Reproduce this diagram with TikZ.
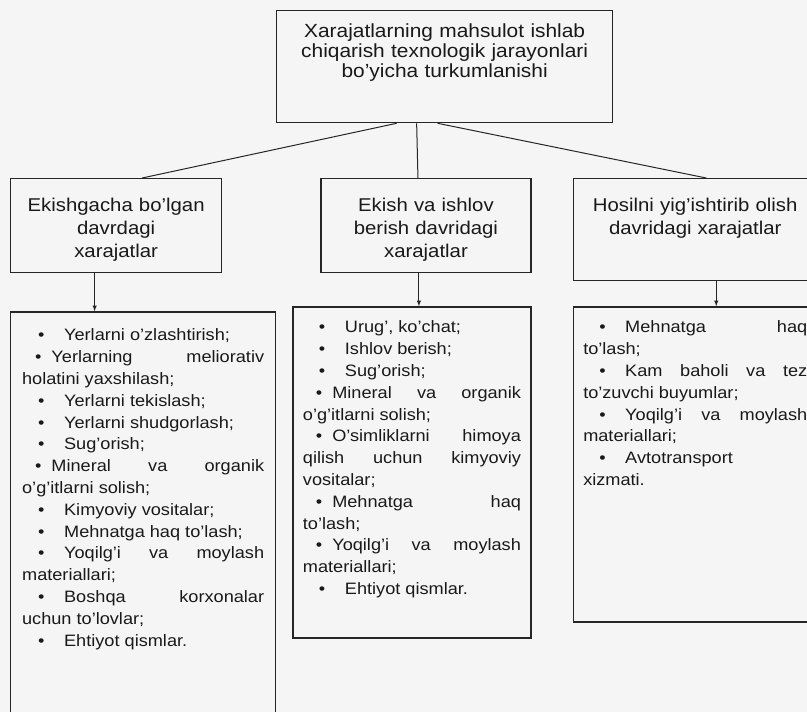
\documentclass[tikz,border=0pt]{standalone}
\usepackage{fontspec}
\setmainfont{Liberation Sans}[FakeStretch=1.1]
\usepackage{tikz}
\usetikzlibrary{arrows,calc}
\usetikzlibrary{positioning}
\newcommand{\itm}{\hspace*{16pt}\makebox[26pt][l]{\textbullet}}
\newcommand{\itmw}{\hspace*{13pt}\textbullet\hspace*{10pt}}
\tikzstyle{line}=[-, line width=1pt, black!85]
\tikzstyle{cell}=[rectangle, draw=black!85, line width=1.3pt, text=black!90, inner sep=6pt]
\tikzstyle{phase}=[cell, align=center, font=\fontsize{18.5}{23}\selectfont,
		text height=27pt, text depth=55pt]
\tikzstyle{costs}=[cell, text justified, font={\fontsize{16.5}{21.8}\selectfont\hyphenpenalty=10000},
		text height=20pt]

\begin{document}
\begin{tikzpicture}[x=1pt, y=1pt, >=latex]

    \fill [black!4] (0,0) rectangle (807,-712);
    \useasboundingbox (0,0) rectangle (807,-712);

    \node (Title) [cell, align=center, text width=324pt, text height=21pt, text depth=79pt,
    		       font=\fontsize{19}{20}\selectfont, anchor=north west] at (276,-10) {
      Xarajatlarning mahsulot ishlab\\
      chiqarish texnologik jarayonlari\\
      bo'yicha turkumlanishi
    };

    \node (Sowing) [phase, text width=199pt, anchor=north west] at (10,-178) {
      Ekishgacha bo'lgan\\ davrdagi\\ xarajatlar
    };

    \node (Growing) [phase, text width=198pt, right=98pt of Sowing] {
      Ekish va ishlov\\ berish davridagi\\ xarajatlar
    };

    \node (Harvest) [phase, text width=232pt, text depth=63pt,
    		         right=41pt of Growing.north east, anchor=north west] {
      Hosilni yig'ishtirib olish\\ davridagi xarajatlar
    };

    \node (SowingList) [costs, text width=242pt, inner xsep=11.5pt, text height=23pt,
    		            text depth=400pt, below=38pt of Sowing.south west, anchor=north west] {
      \itm Yerlarni o'zlashtirish;\par
      \itmw Yerlarning meliorativ\linebreak holatini yaxshilash;\par
      \itm Yerlarni tekislash;\par
      \itm Yerlarni shudgorlash;\par
      \itm Sug'orish;\par
      \itmw Mineral va organik\linebreak o'g'itlarni solish;\par
      \itm Kimyoviy vositalar;\par
      \itm Mehnatga haq to'lash;\par
      \itm Yoqilg'i va moylash\linebreak materiallari;\par
      \itm Boshqa korxonalar\linebreak uchun to'lovlar;\par
      \itm Ehtiyot qismlar.
    };

    \node (GrowingList) [costs, text width=218pt, inner xsep=10pt, text depth=299pt,
    		             below=33pt of Growing.south east, anchor=north east] {
      \itm Urug', ko'chat;\par
      \itm Ishlov berish;\par
      \itm Sug'orish;\par
      \itmw Mineral va organik\linebreak o'g'itlarni solish;\par
      \itmw O'simliklarni himoya\linebreak qilish uchun kimyoviy\linebreak vositalar;\par
      \itmw Mehnatga haq\linebreak to'lash;\par
      \itmw Yoqilg'i va moylash\linebreak materiallari;\par
      \itm Ehtiyot qismlar.
    };

    \node (HarvestList) [costs, text width=224pt, inner xsep=10pt, text depth=283pt,
    		             below=25pt of Harvest.south west, anchor=north west] {
      \itm Mehnatga haq\linebreak to'lash;\par
      \itm Kam baholi va tez\linebreak to'zuvchi buyumlar;\par
      \itm Yoqilg'i va moylash\linebreak materiallari;\par
      \itm Avtotransport\linebreak xizmati.
    };

    \draw [line] ([xshift=-48pt]Title.south) -- ([xshift=26pt]Sowing.north);
    \draw [line] ([xshift=-28pt]Title.south) -- ([xshift=-8pt]Growing.north);
    \draw [line] ([xshift=-7pt]Title.south) -- ([xshift=11pt]Harvest.north);

    \draw [line, ->] ([xshift=-21.5pt]Sowing.south) -- ([xshift=-48.5pt]SowingList.north);
    \draw [line, ->] ([xshift=-7pt]Growing.south) -- ([xshift=7pt]GrowingList.north);
    \draw [line, ->] ([xshift=21pt]Harvest.south) -- ([xshift=21pt]HarvestList.north);

  \end{tikzpicture}
\end{document}
